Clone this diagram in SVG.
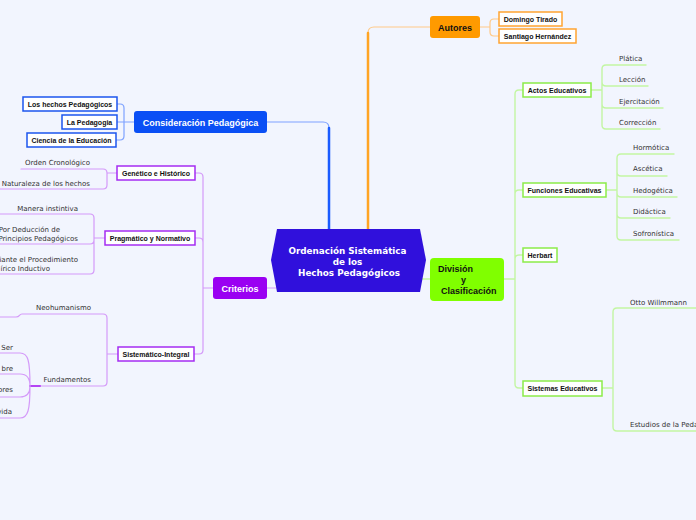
<svg xmlns="http://www.w3.org/2000/svg" width="696" height="520" viewBox="0 0 696 520">
<style>
.lbl{font-family:"Liberation Sans",Arial,sans-serif;font-weight:bold;font-size:7px;fill:#111;text-anchor:middle}
.big{font-family:"Liberation Sans",Arial,sans-serif;font-weight:bold;font-size:9px;text-anchor:middle}
.sub{font-family:"DejaVu Sans",Verdana,sans-serif;font-size:7px;fill:#333}
.end{text-anchor:end}
.st{text-anchor:start}
.c{fill:none;stroke-linecap:round;stroke-linejoin:round}
.cb{stroke:#7ea2ff;stroke-width:1.2}
.co{stroke:#ffc987;stroke-width:1.2}
.cp{stroke:#d49af9;stroke-width:1.2}
.cg{stroke:#c3f6a3;stroke-width:1.4}
.bx{fill:#fff;stroke-width:1.5}
</style>
<rect width="696" height="520" fill="#f2f5fe"/>
<g id="connectors">
  <path class="c cb" d="M267,122 H323 Q329,122 329,128"/>
  <path class="c" d="M329,128 V230" stroke="#1a5bff" stroke-width="2.5"/>
  <path class="c co" d="M430,27 H374 Q368,27 368,33"/>
  <path class="c" d="M368,33 V230" stroke="#ffa424" stroke-width="2.5"/>
  <path class="c co" d="M480,27 H490 M490,27 V23 Q490,19 494,19 H499 M490,27 V32 Q490,36 494,36 H499"/>
  <path class="c cb" d="M134,122 H117 M124,122 V108 Q124,104 120,104 H117 M124,122 V136 Q124,140 120,140 H116"/>
  <path class="c cp" d="M267,288 H276"/>
  <path class="c cp" d="M213,288 H203 M203,288 V177 Q203,173 199,173 H195 M203,288 V242 Q203,238 199,238 H195 M203,288 V350 Q203,354 199,354 H194"/>
  <path class="c cp" d="M117,173 H107 M21,169 H103 Q107,169 107,173 V185 Q107,189 103,189 H0"/>
  <path class="c cp" d="M105,238 H94 M0,214 H90 Q94,214 94,218 V270 Q94,274 90,274 H0 M0,244 H90 Q94,244 94,240"/>
  <path class="c cp" d="M118,354 H107 M22,314 H103 Q107,314 107,318 V382 Q107,386 103,386 H40 M22,314 C19,314 20,317 16,317 H0"/>
  <path class="c" d="M40,386 H30" stroke="#b444f4" stroke-width="2"/>
  <path class="c cp" d="M30,386 C30,360 28,353 20,353 H0 M30,386 C30,378 26,374 20,374 H0 M30,386 C30,394 26,397 20,397 H0 M30,386 C30,410 28,418 20,418 H0"/>
  <path class="c cg" d="M421,279 H430"/>
  <path class="c cg" d="M504,279 H515 M515,279 V94 Q515,90 519,90 H523 M515,279 V194 Q515,190 519,190 H523 M515,279 V259 Q515,255 519,255 H523 M515,279 V384 Q515,388 519,388 H523"/>
  <path class="c cg" d="M591,90 H602 M646,65 H606 Q602,65 602,69 V125 Q602,129 606,129 H660 M602,82 Q602,86 606,86 H648 M602,104 Q602,108 606,108 H663"/>
  <path class="c cg" d="M606,190 H617 M674,154 H621 Q617,154 617,158 V236 Q617,240 621,240 H679 M617,172 Q617,176 621,176 H667 M617,193 Q617,197 621,197 H677 M617,214 Q617,218 621,218 H670"/>
  <path class="c cg" d="M602,388 H613 M697,308 H617 Q613,308 613,312 V427 Q613,431 617,431 H697"/>
</g>
<g id="central">
  <polygon points="277,229 420,229 426,260 420,292 277,292 271,260" fill="#3010dc"/>
  <text font-family="'DejaVu Sans',Verdana,sans-serif" font-weight="bold" font-size="8.8" fill="#fff" text-anchor="middle">
    <tspan x="349" y="254">Ordenación Sistemática</tspan>
    <tspan x="349" y="265">de los</tspan>
    <tspan x="349" y="276">Hechos Pedagógicos</tspan>
  </text>
</g>
<g id="consideracion">
  <rect x="134" y="111" width="133" height="22" rx="3" fill="#0a4ff5"/>
  <text class="big" x="200.5" y="125.5" fill="#fff">Consideración Pedagógica</text>
</g>
<g id="hechos"><rect class="bx" x="23" y="97" width="94" height="14" stroke="#1c55ee"/><text class="lbl" x="70" y="106.5">Los hechos Pedagógicos</text></g>
<g id="pedagogia"><rect class="bx" x="62" y="115" width="55" height="14" stroke="#1c55ee"/><text class="lbl" x="89.5" y="124.5">La Pedagogia</text></g>
<g id="ciencia"><rect class="bx" x="27" y="133" width="89" height="14" stroke="#1c55ee"/><text class="lbl" x="71.5" y="142.5">Ciencia de la Educación</text></g>
<g id="autores">
  <rect x="430" y="16" width="50" height="22" rx="3" fill="#ff9a00"/>
  <text class="big" x="455" y="30.5" fill="#111">Autores</text>
</g>
<g id="domingo"><rect class="bx" x="499" y="12" width="63" height="14" stroke="#ffa432"/><text class="lbl" x="530.5" y="21.5">Domingo Tirado</text></g>
<g id="santiago"><rect class="bx" x="499" y="29" width="77" height="14" stroke="#ffa432"/><text class="lbl" x="537.5" y="38.5">Santiago Hernández</text></g>
<g id="criterios">
  <rect x="213" y="277" width="54" height="22" rx="3" fill="#9a00f2"/>
  <text class="big" x="240" y="291.5" fill="#fff">Criterios</text>
</g>
<g id="genetico"><rect class="bx" x="117" y="166" width="78" height="14" stroke="#a52cf2"/><text class="lbl" x="156" y="175.5">Genético e Histórico</text></g>
<g id="pragmatico"><rect class="bx" x="105" y="231" width="90" height="14" stroke="#a52cf2"/><text class="lbl" x="150" y="240.5">Pragmático y Normativo</text></g>
<g id="sistematico"><rect class="bx" x="118" y="347" width="76" height="14" stroke="#a52cf2"/><text class="lbl" x="156" y="356.5">Sistemático-Integral</text></g>
<g id="orden"><text class="sub end" x="90" y="165">Orden Cronológico</text></g>
<g id="naturaleza"><text class="sub end" x="90" y="186">Naturaleza de los hechos</text></g>
<g id="manera"><text class="sub end" x="78" y="211">Manera instintiva</text></g>
<g id="deduccion"><text class="sub end" x="60" y="232">Por Deducción de</text><text class="sub end" x="78" y="241">Principios Pedagógicos</text></g>
<g id="procedimiento"><text class="sub end" x="78" y="262">iante el Procedimiento</text><text class="sub end" x="50" y="271">írico Inductivo</text></g>
<g id="neohumanismo"><text class="sub end" x="91" y="310">Neohumanismo</text></g>
<g id="fundamentos"><text class="sub end" x="91" y="382">Fundamentos</text></g>
<g id="ser"><text class="sub end" x="13" y="349.5">Ser</text></g>
<g id="hombre"><text class="sub end" x="13" y="371">bre</text></g>
<g id="valores"><text class="sub end" x="13" y="392">ores</text></g>
<g id="vida"><text class="sub end" x="12" y="414">vida</text></g>
<g id="division">
  <rect x="430" y="258" width="74" height="43" rx="4" fill="#80ff00"/>
  <text class="big st" fill="#111"><tspan x="438" y="272">División</tspan><tspan x="461" y="283">y</tspan><tspan x="441" y="293.5">Clasificación</tspan></text>
</g>
<g id="actos"><rect class="bx" x="523" y="83" width="68" height="14" stroke="#8cec4a"/><text class="lbl" x="557" y="92.5">Actos Educativos</text></g>
<g id="funciones"><rect class="bx" x="523" y="183" width="83" height="14" stroke="#8cec4a"/><text class="lbl" x="564.5" y="192.5">Funciones Educativas</text></g>
<g id="herbart"><rect class="bx" x="523" y="248" width="34" height="14" stroke="#8cec4a"/><text class="lbl" x="540" y="257.5">Herbart</text></g>
<g id="sistemas"><rect class="bx" x="523" y="381" width="79" height="15" stroke="#8cec4a"/><text class="lbl" x="562.5" y="391">Sistemas Educativos</text></g>
<g id="platica"><text class="sub" x="619" y="61">Plática</text></g>
<g id="leccion"><text class="sub" x="619" y="82">Lección</text></g>
<g id="ejercitacion"><text class="sub" x="619" y="104">Ejercitación</text></g>
<g id="correccion"><text class="sub" x="619" y="125">Corrección</text></g>
<g id="hormotica"><text class="sub" x="633" y="150">Hormótica</text></g>
<g id="ascetica"><text class="sub" x="633" y="171">Ascética</text></g>
<g id="hedogetica"><text class="sub" x="633" y="193">Hedogética</text></g>
<g id="didactica"><text class="sub" x="633" y="214">Didáctica</text></g>
<g id="sofronistica"><text class="sub" x="633" y="236">Sofronística</text></g>
<g id="otto"><text class="sub" x="630" y="305">Otto Willmmann</text></g>
<g id="estudios"><text class="sub" x="630" y="427">Estudios de la Peda</text></g>
</svg>
